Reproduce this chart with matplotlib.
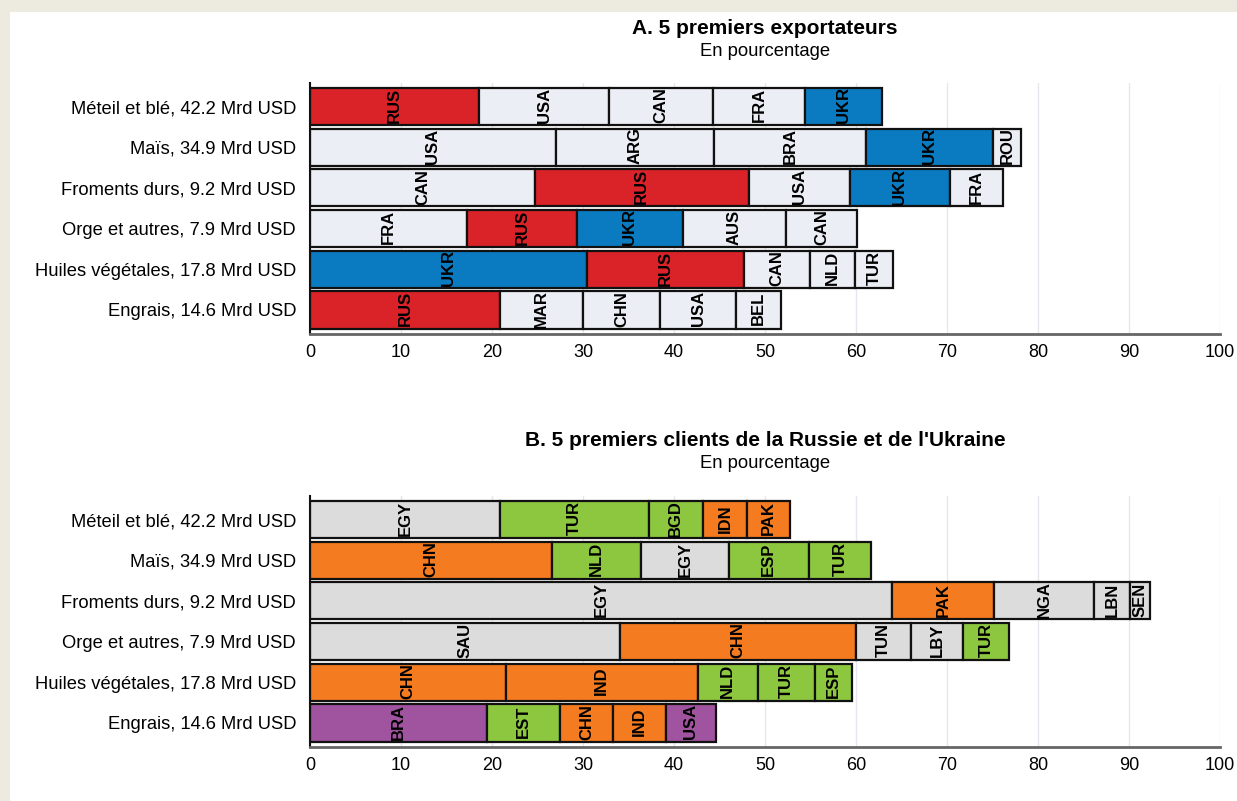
import matplotlib
matplotlib.use("Agg")
import matplotlib.pyplot as plt
from matplotlib.patches import Rectangle

plt.rcParams['font.family'] = ['Liberation Sans', 'DejaVu Sans']

products = ["Méteil et blé, 42.2 Mrd USD", "Maïs, 34.9 Mrd USD",
            "Froments durs, 9.2 Mrd USD", "Orge et autres, 7.9 Mrd USD",
            "Huiles végétales, 17.8 Mrd USD", "Engrais, 14.6 Mrd USD"]

# panel A: top 5 exporters, shares in %
exp_countries = [["RUS", "USA", "CAN", "FRA", "UKR"],
                 ["USA", "ARG", "BRA", "UKR", "ROU"],
                 ["CAN", "RUS", "USA", "UKR", "FRA"],
                 ["FRA", "RUS", "UKR", "AUS", "CAN"],
                 ["UKR", "RUS", "CAN", "NLD", "TUR"],
                 ["RUS", "MAR", "CHN", "USA", "BEL"]]
exp_shares = [[18.6, 14.3, 11.4, 10.1, 8.5],
              [27.0, 17.4, 16.7, 14.0, 3.0],
              [24.7, 23.5, 11.1, 11.0, 5.8],
              [17.3, 12.0, 11.7, 11.3, 7.8],
              [30.4, 17.3, 7.2, 5.0, 4.2],
              [20.9, 9.1, 8.5, 8.3, 5.0]]

# panel B: top 5 clients of Russia and Ukraine, shares in %
cli_countries = [["EGY", "TUR", "BGD", "IDN", "PAK"],
                 ["CHN", "NLD", "EGY", "ESP", "TUR"],
                 ["EGY", "PAK", "NGA", "LBN", "SEN"],
                 ["SAU", "CHN", "TUN", "LBY", "TUR"],
                 ["CHN", "IND", "NLD", "TUR", "ESP"],
                 ["BRA", "EST", "CHN", "IND", "USA"]]
cli_shares = [[20.9, 16.3, 6.0, 4.8, 4.7],
              [26.6, 9.8, 9.6, 8.8, 6.9],
              [64.0, 11.2, 11.0, 3.9, 2.2],
              [34.1, 25.9, 6.0, 5.8, 5.0],
              [21.5, 21.1, 6.6, 6.3, 4.1],
              [19.4, 8.1, 5.8, 5.8, 5.5]]

exp_colors = {"RUS": "#da2229", "UKR": "#0a7bc0"}
exp_other = "#eceef5"
grey, green, orange, purple = "#dcdcdc", "#8dc73f", "#f47b20", "#a0539f"
cli_colors = {"EGY": grey, "SAU": grey, "TUN": grey, "LBY": grey, "NGA": grey,
              "LBN": grey, "SEN": grey,
              "TUR": green, "NLD": green, "ESP": green, "EST": green, "BGD": green,
              "CHN": orange, "IND": orange, "IDN": orange, "PAK": orange,
              "BRA": purple, "USA": purple}

fig = plt.figure(figsize=(12.37, 8.01), dpi=100)
fig.patch.set_facecolor("#edeae0")
fig.add_artist(Rectangle((10 / 1237, 0), 1, 1 - 12 / 801, transform=fig.transFigure,
                         facecolor="white", edgecolor="none", zorder=0))


def panel(rect, countries, shares, colors, title, top_px):
    ax = fig.add_axes(rect)
    ax.set_facecolor("none")
    for i in range(len(products)):
        left = 0
        for c, s in zip(countries[i], shares[i]):
            col = colors(c)
            ax.barh(i, s, left=left, height=0.91, color=col, edgecolor="#111111",
                    linewidth=1.6, zorder=2)
            ax.text(left + s / 2, i - 0.03, c, rotation=90, ha="center", va="center",
                    fontsize=12, fontweight="bold", zorder=3)
            left += s
    ax.set_xlim(0, 100)
    ax.set_ylim(5.59, -0.58)
    ax.set_yticks(range(len(products)))
    ax.set_yticklabels(products, fontsize=13.2)
    ax.set_xticks(range(0, 101, 10))
    ax.tick_params(axis="x", labelsize=13, length=0, pad=7)
    ax.tick_params(axis="y", length=0, pad=10)
    ax.grid(axis="x", color="#e6e6ef", linewidth=1, zorder=0)
    ax.set_axisbelow(True)
    for s in ["top", "right"]:
        ax.spines[s].set_visible(False)
    ax.spines["left"].set_color("#111111")
    ax.spines["left"].set_linewidth(1.5)
    ax.spines["bottom"].set_color("#666666")
    ax.spines["bottom"].set_linewidth(2)
    xc = 765 / 1237
    fig.text(xc, 1 - top_px / 801, title, ha="center", va="center",
             fontsize=15, fontweight="bold")
    fig.text(xc, 1 - (top_px + 23) / 801, "En pourcentage", ha="center", va="center",
             fontsize=13.3)
    return ax


left_f = 310 / 1237
width_f = 910 / 1237
panel([left_f, 1 - 334 / 801, width_f, 251 / 801], exp_countries, exp_shares,
      lambda c: exp_colors.get(c, exp_other), "A. 5 premiers exportateurs", 28)
panel([left_f, 1 - 747 / 801, width_f, 251 / 801], cli_countries, cli_shares,
      lambda c: cli_colors[c], "B. 5 premiers clients de la Russie et de l'Ukraine", 441)

fig.savefig("out.png", dpi=100, facecolor=fig.get_facecolor())
